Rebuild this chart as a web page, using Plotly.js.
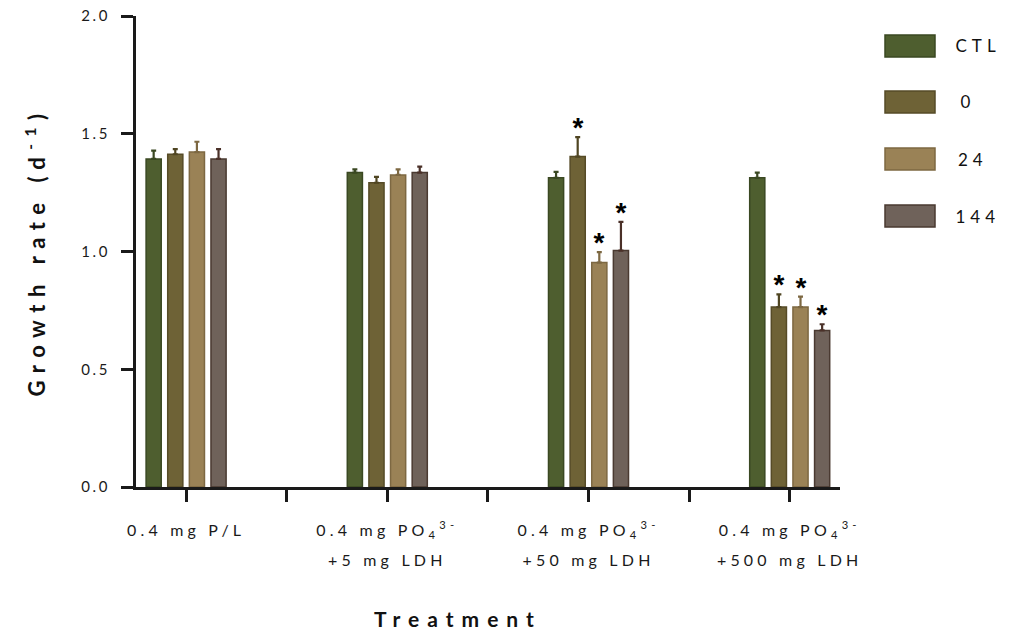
<!DOCTYPE html>
<html>
<head>
<meta charset="utf-8">
<script src="https://cdn.plot.ly/plotly-3.0.1.min.js"></script>
<style>
  html, body { margin: 0; padding: 0; background: #fff; }
  #chart { width: 1017px; height: 632px; }
  .xtick text { letter-spacing: 4.2px; }
  .ytick text { letter-spacing: 2.6px; }
  .g-ytitle text { letter-spacing: 7.5px; }
  .annotation-text-g text { letter-spacing: 5px; }
  g.annotation:last-child .annotation-text-g text { letter-spacing: 8px; }
</style>
</head>
<body>
<div id="chart"></div>
<script>
// ---- data ----
const categories = [
  "0.4 mg P/L",
  "0.4 mg PO<sub>4</sub><sup>3-</sup><br>+5 mg LDH",
  "0.4 mg PO<sub>4</sub><sup>3-</sup><br>+50 mg LDH",
  "0.4 mg PO<sub>4</sub><sup>3-</sup><br>+500 mg LDH"
];
const seriesNames = ["CTL", "0", "24", "144"];
const ctlValues  = [1.393, 1.335, 1.313, 1.313];
const t0Values   = [1.413, 1.292, 1.403, 0.764];
const t24Values  = [1.422, 1.325, 0.953, 0.764];
const t144Values = [1.393, 1.335, 1.004, 0.665];
const ctlErr  = [0.035, 0.014, 0.025, 0.022];
const t0Err   = [0.022, 0.025, 0.083, 0.054];
const t24Err  = [0.044, 0.024, 0.044, 0.044];
const t144Err = [0.042, 0.025, 0.122, 0.026];
const ctlSig  = [false, false, false, false];
const t0Sig   = [false, false, true, true];
const t24Sig  = [false, false, true, true];
const t144Sig = [false, false, true, true];
const yTickVals = [0, 0.5, 1.0, 1.5, 2.0];
const xTitle = "Treatment";
const yTitle = "Growth rate (d<sup>-1</sup>)";

// ---- styles ----
const fills = ["#4e5e2f", "#6e6236", "#9a8256", "#6f625a"];
const edges = ["#3a4822", "#564b27", "#7d6842", "#4a3a31"];
const errCols = ["#3a4822", "#4f4522", "#7d6842", "#4a3028"];
const BARGAP = 0.57;

const values = [ctlValues, t0Values, t24Values, t144Values];
const errs = [ctlErr, t0Err, t24Err, t144Err];
const sigs = [ctlSig, t0Sig, t24Sig, t144Sig];
const xIdx = categories.map((c, i) => i);

const traces = seriesNames.map((name, s) => ({
  type: "bar",
  name: name,
  x: xIdx,
  y: values[s],
  marker: { color: fills[s], line: { color: edges[s], width: 1.5 } },
  error_y: {
    type: "data", symmetric: false,
    array: errs[s], arrayminus: values[s].map(() => 0),
    color: errCols[s], thickness: 2.2, width: 2.5
  },
  hoverinfo: "x+y+name"
}));

// x tick values: category centres plus separators between groups
const tickVals = [], tickText = [];
const wrapLine = l => '<span style="font-size:16px">' + l + '</span>';
categories.forEach((c, i) => {
  tickVals.push(i);
  tickText.push(c.split("<br>").map(wrapLine).join("<br>"));
  if (i < categories.length - 1) { tickVals.push(i + 0.5); tickText.push(""); }
});

// significance stars placed above error bars
const nS = seriesNames.length;
const slot = (1 - BARGAP) / nS;
const annotations = [];
sigs.forEach((arr, s) => arr.forEach((flag, i) => {
  if (!flag) return;
  annotations.push({
    x: i + (s - (nS - 1) / 2) * slot,
    y: values[s][i] + errs[s][i],
    xref: "x", yref: "y", xshift: 2.5,
    text: "<b>*</b>", showarrow: false,
    yanchor: "bottom", yshift: -8,
    font: { family: "Liberation Sans, sans-serif", size: 28, color: "#000" }
  });
}));

// legend (drawn manually with large swatches) and x title
const plotL = 136, plotR = 840, plotT = 16, plotB = 487;
const px2x = p => (p - plotL) / (plotR - plotL);
const px2y = p => (plotB - p) / (plotB - plotT);
const legendRows = [46, 102, 159, 216];
const shapes = [];
seriesNames.forEach((name, s) => {
  const cy = legendRows[s];
  shapes.push({
    type: "rect", xref: "paper", yref: "paper",
    x0: px2x(885), x1: px2x(935), y0: px2y(cy + 11), y1: px2y(cy - 11),
    fillcolor: fills[s], line: { color: edges[s], width: 1.5 }
  });
  annotations.push({
    xref: "paper", yref: "paper", x: px2x(961), y: px2y(cy),
    xanchor: "left", yanchor: "middle", showarrow: false,
    text: name, font: { family: "Lato, sans-serif", size: 17, color: "#111" }
  });
});
annotations.push({
  xref: "paper", yref: "paper", x: px2x(458), y: px2y(618),
  xanchor: "center", yanchor: "middle", showarrow: false,
  text: "<b>" + xTitle + "</b>",
  font: { family: "Lato, sans-serif", size: 21, color: "#111" }
});

const axisCol = "#1a1a1a";
const layout = {
  width: 1017, height: 632,
  margin: { l: plotL, r: 1017 - plotR, t: plotT, b: 632 - plotB },
  paper_bgcolor: "#fff", plot_bgcolor: "#fff",
  showlegend: false,
  barmode: "group", bargap: BARGAP, bargroupgap: 0.3,
  font: { family: "Lato, sans-serif", color: "#222" },
  xaxis: {
    range: [-0.249, 3.25],
    tickmode: "array", tickvals: tickVals, ticktext: tickText,
    ticks: "outside", ticklen: 12, tickwidth: 3, tickcolor: axisCol,
    showline: true, linewidth: 3, linecolor: axisCol,
    showgrid: false, zeroline: false, tickangle: 0,
    ticklabelstandoff: 6,
    tickfont: { family: "Lato, sans-serif", size: 23, color: "#1a1a1a" }
  },
  yaxis: {
    range: [0, 2.0],
    tickmode: "array", tickvals: yTickVals,
    tickformat: ".1f",
    ticks: "outside", ticklen: 12, tickwidth: 3, tickcolor: axisCol,
    showline: true, linewidth: 3, linecolor: axisCol,
    showgrid: false, zeroline: false,
    ticklabelstandoff: 8,
    tickfont: { family: "Lato, sans-serif", size: 15, color: "#1a1a1a" },
    title: { text: yTitle, standoff: 30,
      font: { family: "Lato, sans-serif", size: 22, color: "#111", weight: "bold" } }
  },
  shapes: shapes,
  annotations: annotations
};

Plotly.newPlot("chart", traces, layout, { displayModeBar: false, staticPlot: true });
</script>
</body>
</html>
